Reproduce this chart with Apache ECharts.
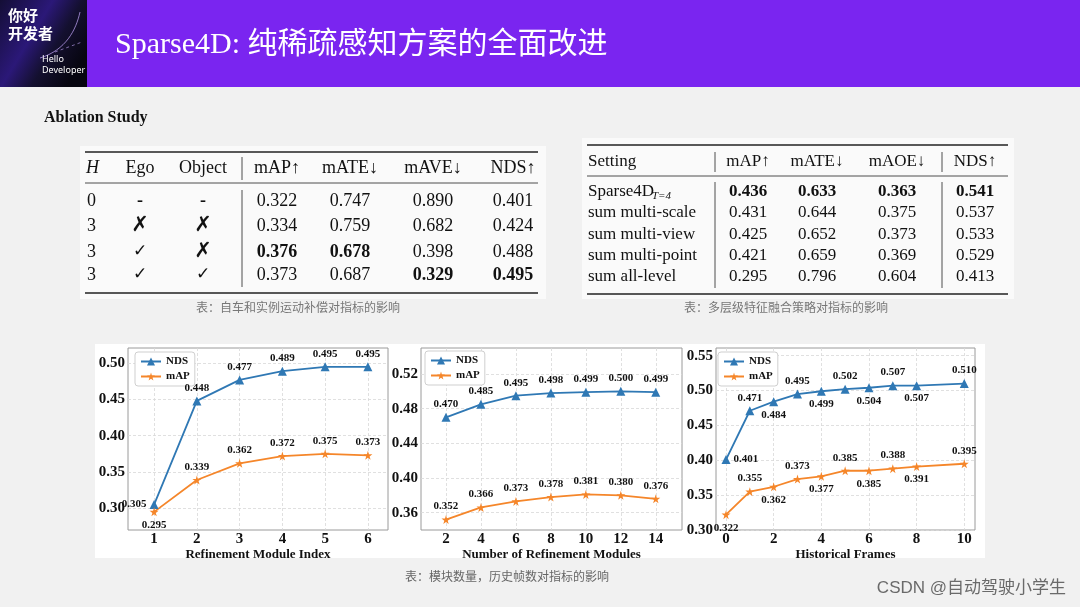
<!DOCTYPE html>
<html><head><meta charset="utf-8">
<script src="https://cdn.jsdelivr.net/npm/echarts@6/dist/echarts.min.js"></script>
<style>html,body{margin:0;padding:0;background:#f1f1f1}#c{width:1080px;height:607px}</style>
</head><body><div id="c"></div>
<script>
// ---------- data ----------
const pageTitle = 'Sparse4D: 纯稀疏感知方案的全面改进';
const sectionTitle = 'Ablation Study';

const t1Header = ['H', 'Ego', 'Object', 'mAP↑', 'mATE↓', 'mAVE↓', 'NDS↑'];
const t1H = ['0', '3', '3', '3'];
const t1Ego = ['-', '✗', '✓', '✓'];
const t1Obj = ['-', '✗', '✗', '✓'];
const t1mAP = ['0.322', '0.334', '0.376', '0.373'];
const t1mATE = ['0.747', '0.759', '0.678', '0.687'];
const t1mAVE = ['0.890', '0.682', '0.398', '0.329'];
const t1NDS = ['0.401', '0.424', '0.488', '0.495'];
const t1Caption = '表：自车和实例运动补偿对指标的影响';

const t2Header = ['Setting', 'mAP↑', 'mATE↓', 'mAOE↓', 'NDS↑'];
const t2Setting = ['Sparse4D', 'sum multi-scale', 'sum multi-view', 'sum multi-point', 'sum all-level'];
const t2SettingSub = ['T=4', '', '', '', ''];
const t2mAP = ['0.436', '0.431', '0.425', '0.421', '0.295'];
const t2mATE = ['0.633', '0.644', '0.652', '0.659', '0.796'];
const t2mAOE = ['0.363', '0.375', '0.373', '0.369', '0.604'];
const t2NDS = ['0.541', '0.537', '0.533', '0.529', '0.413'];
const t2Caption = '表：多层级特征融合策略对指标的影响';

const c1X = [1, 2, 3, 4, 5, 6];
const c1NDS = [0.305, 0.448, 0.477, 0.489, 0.495, 0.495];
const c1mAP = [0.295, 0.339, 0.362, 0.372, 0.375, 0.373];
const c1XTicks = [1, 2, 3, 4, 5, 6];
const c1YTicks = [0.30, 0.35, 0.40, 0.45, 0.50];
const c1Name = 'Refinement Module Index';

const c2X = [2, 4, 6, 8, 10, 12, 14];
const c2NDS = [0.470, 0.485, 0.495, 0.498, 0.499, 0.500, 0.499];
const c2mAP = [0.352, 0.366, 0.373, 0.378, 0.381, 0.380, 0.376];
const c2XTicks = [2, 4, 6, 8, 10, 12, 14];
const c2YTicks = [0.36, 0.40, 0.44, 0.48, 0.52];
const c2Name = 'Number of Refinement Modules';

const c3X = [0, 1, 2, 3, 4, 5, 6, 7, 8, 10];
const c3NDS = [0.401, 0.471, 0.484, 0.495, 0.499, 0.502, 0.504, 0.507, 0.507, 0.510];
const c3mAP = [0.322, 0.355, 0.362, 0.373, 0.377, 0.385, 0.385, 0.388, 0.391, 0.395];
const c3XTicks = [0, 2, 4, 6, 8, 10];
const c3YTicks = [0.30, 0.35, 0.40, 0.45, 0.50, 0.55];
const c3Name = 'Historical Frames';

const chartsCaption = '表：模块数量，历史帧数对指标的影响';
const watermark = 'CSDN @自动驾驶小学生';
const seriesNames = ['NDS', 'mAP'];

// ---------- layout / style ----------
const SERIF = '"Liberation Serif","Times New Roman","Noto Serif",serif';
const SANS = '"Noto Sans CJK SC","Noto Sans",sans-serif';
const BLUE = '#2f78b4';
const ORANGE = '#f5862a';
const STAR = 'path://M50,0 L61,35 L98,35 L68,57 L79,91 L50,70 L21,91 L32,57 L2,35 L39,35 Z';

const g = [];
function T(x, y, text, o) {
  o = o || {};
  g.push({ type: 'text', silent: true, z: 10, style: Object.assign({
    x, y, text, fill: '#111', fontSize: 18, fontFamily: SERIF,
    align: 'center', verticalAlign: 'middle'
  }, o) });
}
function L(x1, y1, x2, y2, w, c) {
  g.push({ type: 'line', silent: true, z: 10, shape: { x1, y1, x2, y2 }, style: { stroke: c || '#222', lineWidth: w } });
}
function R(x, y, w, h, fill, z) {
  g.push({ type: 'rect', silent: true, z: z || 1, shape: { x, y, width: w, height: h }, style: { fill } });
}

// header
R(0, 0, 1080, 87, '#7a25f0', 1);
g.push({ type: 'rect', silent: true, z: 2, shape: { x: 0, y: 0, width: 87, height: 87 },
  style: { fill: new echarts.graphic.LinearGradient(0, 0, 1, 0.6, [
    { offset: 0, color: '#140e36' }, { offset: 0.45, color: '#2b1878' }, { offset: 0.7, color: '#141030' }, { offset: 1, color: '#070610' }]) } });
g.push({ type: 'bezierCurve', silent: true, z: 3, shape: { x1: 40, y1: 58, x2: 80, y2: 12, cpx1: 66, cpy1: 50, cpx2: 76, cpy2: 30 },
  style: { stroke: 'rgba(200,170,255,0.7)', lineWidth: 1, fill: null } });
g.push({ type: 'line', silent: true, z: 3, shape: { x1: 55, y1: 52, x2: 82, y2: 42 },
  style: { stroke: 'rgba(200,170,255,0.6)', lineWidth: 1, lineDash: [3, 3] } });
T(8, 15, '你好', { fill: '#fff', fontSize: 15, fontWeight: 'bold', fontFamily: SANS, align: 'left' });
T(8, 33, '开发者', { fill: '#fff', fontSize: 15, fontWeight: 'bold', fontFamily: SANS, align: 'left' });
T(42, 59, 'Hello', { fill: '#fff', fontSize: 9, fontFamily: '"Noto Sans",sans-serif', align: 'left' });
T(42, 70, 'Developer', { fill: '#fff', fontSize: 9, fontFamily: '"Noto Sans",sans-serif', align: 'left' });
T(115, 45, pageTitle, { fill: '#fff', fontSize: 30, fontFamily: '"Liberation Serif","Noto Sans CJK SC",serif', align: 'left' });

T(44, 118, sectionTitle, { fontSize: 16, fontWeight: 'bold', align: 'left' });

// table 1
R(80, 146, 466, 153, '#fafafa', 1);
const t1Cols = [86, 140, 203, 277, 350, 433, 513];
const t1Rows = [201, 226, 252, 275];
L(85, 152, 538, 152, 1.6); L(85, 183, 538, 183, 0.8); L(85, 293, 538, 293, 1.6);
L(242, 157, 242, 180, 0.8); L(242, 190, 242, 287, 0.8);
t1Header.forEach((h, j) => T(t1Cols[j], 168, h, j === 0 ? { align: 'left', fontStyle: 'italic' } : {}));
function bestIdx(arr, up) { let b = 0; arr.forEach((v, i) => { if (up ? +v > +arr[b] : +v < +arr[b]) b = i; }); return b; }
const t1Num = [t1mAP, t1mATE, t1mAVE, t1NDS];
t1Rows.forEach((y, i) => {
  T(t1Cols[0] + 1, y, t1H[i], { align: 'left' });
  [t1Ego, t1Obj].forEach((col, k) => {
    const s = col[i];
    const o = s === '✗' ? { fontSize: 21, fontWeight: 'bold', fontFamily: '"DejaVu Sans",sans-serif' }
      : s === '✓' ? { fontSize: 17, fontFamily: '"DejaVu Serif","DejaVu Sans",serif' } : { fontWeight: 'bold' };
    T(t1Cols[1 + k], y, s, o);
  });
  t1Num.forEach((col, k) => {
    const up = t1Header[3 + k].indexOf('↑') >= 0;
    T(t1Cols[3 + k], y, col[i], bestIdx(col, up) === i ? { fontWeight: 'bold' } : {});
  });
});
T(298, 307, t1Caption, { fontSize: 12, fill: '#777', fontFamily: SANS });

// table 2
R(582, 138, 432, 161, '#fafafa', 1);
const t2Cols = [588, 748, 817, 897, 975];
const t2Rows = [192, 213, 235, 256, 277];
L(587, 145, 1008, 145, 1.6); L(587, 176, 1008, 176, 0.8); L(587, 294, 1008, 294, 1.6);
[715, 942].forEach(x => { L(x, 152, x, 172, 0.8); L(x, 182, x, 288, 0.8); });
t2Header.forEach((h, j) => T(t2Cols[j], 162, h, j === 0 ? { align: 'left', fontSize: 17 } : { fontSize: 17 }));
const t2Num = [t2mAP, t2mATE, t2mAOE, t2NDS];
t2Rows.forEach((y, i) => {
  T(t2Cols[0], y, t2Setting[i], { align: 'left', fontSize: 17 });
  if (t2SettingSub[i]) T(652, y + 4, t2SettingSub[i], { align: 'left', fontSize: 11, fontStyle: 'italic' });
  t2Num.forEach((col, k) => {
    const up = t2Header[1 + k].indexOf('↑') >= 0;
    T(t2Cols[1 + k], y, col[i], bestIdx(col, up) === i ? { fontWeight: 'bold', fontSize: 17 } : { fontSize: 17 });
  });
});
T(786, 307, t2Caption, { fontSize: 12, fill: '#777', fontFamily: SANS });

// chart image background (drawn under the charts)
R(95, 344, 890, 214, '#ffffff', -10);
T(405, 576, chartsCaption, { fontSize: 12, fill: '#666', fontFamily: SANS, align: 'left' });
T(1066, 588, watermark, { fontSize: 17, fill: '#6a6a6a', fontFamily: '"Liberation Sans","Noto Sans CJK SC",sans-serif', align: 'right' });

// ---------- charts ----------
const grids = [
  { left: 128, top: 348, width: 260, height: 182 },
  { left: 421, top: 348, width: 261, height: 182 },
  { left: 716, top: 348, width: 259, height: 182 }
];
const xr = [[0.39, 6.47], [0.57, 15.5], [-0.42, 10.45]];
const yr = [[0.270, 0.521], [0.340, 0.550], [0.300, 0.561]];
const xT = [c1XTicks, c2XTicks, c3XTicks];
const yT = [c1YTicks, c2YTicks, c3YTicks];
const names = [c1Name, c2Name, c3Name];
const xs = [c1X, c2X, c3X];
const nds = [c1NDS, c2NDS, c3NDS];
const maps = [c1mAP, c2mAP, c3mAP];
const ndsPos = [
  ['left', 'top', 'top', 'top', 'top', 'top'],
  ['top', 'top', 'top', 'top', 'top', 'top', 'top'],
  ['right', 'top', 'bottom', 'top', 'bottom', 'top', 'bottom', 'top', 'bottom', 'top']
];
const mapPos = [
  ['bottom', 'top', 'top', 'top', 'top', 'top'],
  ['top', 'top', 'top', 'top', 'top', 'top', 'top'],
  ['bottom', 'top', 'bottom', 'top', 'bottom', 'top', 'bottom', 'top', 'bottom', 'top']
];
const legendPos = [[135, 352], [425, 351], [718, 352]];

const labelFont = { fontFamily: SERIF, fontWeight: 'bold', color: '#111' };
const xAxes = [], yAxes = [], series = [], legends = [];
for (let i = 0; i < 3; i++) {
  xAxes.push({
    type: 'value', gridIndex: i, min: xr[i][0], max: xr[i][1], z: 8,
    name: names[i], nameLocation: 'middle', nameGap: 12,
    nameTextStyle: Object.assign({ fontSize: 13 }, labelFont),
    axisLine: { show: false }, axisTick: { show: false, customValues: xT[i] },
    axisLabel: Object.assign({ customValues: xT[i], fontSize: 15, margin: 2 }, labelFont),
    splitLine: { show: true, lineStyle: { color: '#d8d8d8', type: [3, 2], width: 0.8 } }
  });
  yAxes.push({
    type: 'value', gridIndex: i, min: yr[i][0], max: yr[i][1], z: 8,
    axisLine: { show: false }, axisTick: { show: false, customValues: yT[i] },
    axisLabel: Object.assign({ customValues: yT[i], fontSize: 15, margin: 3, formatter: v => v.toFixed(2) }, labelFont),
    splitLine: { show: true, lineStyle: { color: '#d8d8d8', type: [3, 2], width: 0.8 } }
  });
  const mk = (name, vals, pos, color, symbol, size) => ({
    type: 'line', name, xAxisIndex: i, yAxisIndex: i, symbol, symbolSize: size,
    z: 12, itemStyle: { color }, lineStyle: { color, width: 1.8 },
    label: Object.assign({ show: true, fontSize: 11, distance: 3, formatter: p => p.value[1].toFixed(3) }, labelFont),
    data: xs[i].map((x, k) => ({ value: [x, vals[k]], label: { position: pos[k] } }))
  });
  series.push(mk(seriesNames[0], nds[i], ndsPos[i], BLUE, 'triangle', 9));
  series.push(mk(seriesNames[1], maps[i], mapPos[i], ORANGE, STAR, 9));
  legends.push({
    left: legendPos[i][0], top: legendPos[i][1], orient: 'vertical', data: seriesNames, z: 10,
    backgroundColor: '#fff', borderColor: '#cfcfcf', borderWidth: 1, borderRadius: 3,
    padding: [4, 5, 4, 5], itemWidth: 20, itemHeight: 10, itemGap: 4, selectedMode: false,
    textStyle: Object.assign({ fontSize: 11 }, labelFont)
  });
}

const chart = echarts.init(document.getElementById('c'), null, { renderer: 'canvas' });
chart.setOption({
  animation: false,
  backgroundColor: '#f1f1f1',
  grid: grids.map(gr => Object.assign({ show: true, borderColor: '#9a9a9a', borderWidth: 1, backgroundColor: '#fff', z: 3 }, gr)),
  xAxis: xAxes, yAxis: yAxes, series, legend: legends,
  graphic: { elements: g }
});
</script></body></html>
